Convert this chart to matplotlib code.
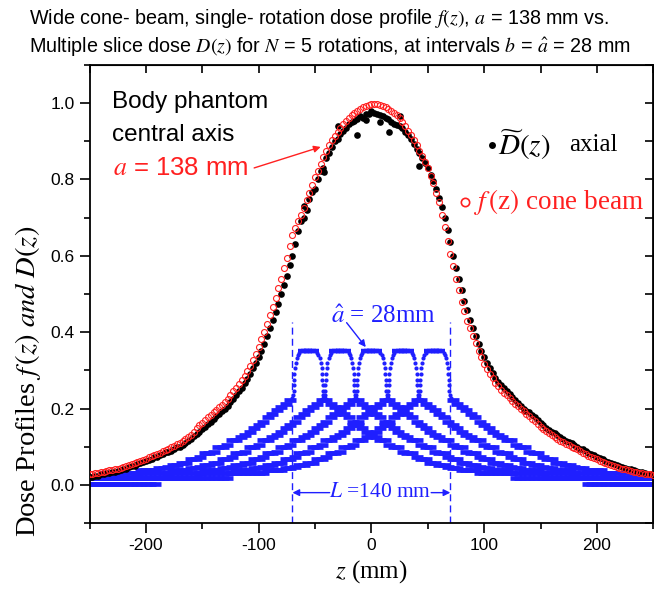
import numpy as np
import matplotlib.pyplot as plt

plt.rcParams['font.family'] = ['Liberation Sans', 'DejaVu Sans']
plt.rcParams['mathtext.fontset'] = 'stix'
plt.rcParams['axes.unicode_minus'] = False

# z positions (mm) for the measured profiles, 2.5 mm apart
z_mm = [-250 + 2.5 * i for i in range(201)]

# f(z) cone beam, single rotation (red open circles)
f_cone = [0.029, 0.030, 0.031, 0.032, 0.033, 0.035, 0.036, 0.038, 0.039, 0.041,
          0.043, 0.045, 0.047, 0.050, 0.052, 0.055, 0.057, 0.060, 0.063, 0.066,
          0.069, 0.072, 0.075, 0.078, 0.081, 0.085, 0.088, 0.092, 0.095, 0.099,
          0.103, 0.107, 0.111, 0.116, 0.120, 0.126, 0.132, 0.140, 0.148, 0.156,
          0.163, 0.170, 0.177, 0.184, 0.190, 0.197, 0.203, 0.210, 0.218, 0.226,
          0.235, 0.245, 0.255, 0.265, 0.275, 0.286, 0.298, 0.312, 0.327, 0.344,
          0.362, 0.381, 0.400, 0.422, 0.445, 0.467, 0.490, 0.515, 0.540, 0.567,
          0.595, 0.625, 0.655, 0.673, 0.690, 0.707, 0.725, 0.745, 0.765, 0.785,
          0.805, 0.823, 0.840, 0.858, 0.875, 0.889, 0.903, 0.914, 0.925, 0.935,
          0.945, 0.954, 0.962, 0.969, 0.975, 0.980, 0.985, 0.990, 0.993, 0.996,
          0.998, 0.998, 0.997, 0.995, 0.993, 0.989, 0.985, 0.980, 0.975, 0.968,
          0.960, 0.950, 0.940, 0.928, 0.915, 0.903, 0.890, 0.875, 0.860, 0.845,
          0.830, 0.810, 0.790, 0.765, 0.740, 0.708, 0.675, 0.640, 0.605, 0.572,
          0.540, 0.510, 0.480, 0.455, 0.430, 0.410, 0.390, 0.371, 0.352, 0.335,
          0.318, 0.304, 0.290, 0.279, 0.268, 0.259, 0.250, 0.242, 0.235, 0.227,
          0.220, 0.213, 0.206, 0.200, 0.193, 0.186, 0.180, 0.173, 0.167, 0.160,
          0.152, 0.146, 0.141, 0.135, 0.130, 0.125, 0.120, 0.116, 0.112, 0.108,
          0.104, 0.100, 0.097, 0.093, 0.089, 0.085, 0.081, 0.077, 0.074, 0.070,
          0.067, 0.064, 0.061, 0.058, 0.055, 0.052, 0.050, 0.047, 0.045, 0.043,
          0.041, 0.039, 0.037, 0.035, 0.034, 0.032, 0.031, 0.030, 0.029, 0.028,
          0.027]

# D~(z) axial measurement (black dots)
d_axial = [0.020, 0.020, 0.024, 0.024, 0.028, 0.028, 0.031, 0.031, 0.034, 0.034,
           0.037, 0.040, 0.043, 0.043, 0.047, 0.050, 0.050, 0.055, 0.058, 0.060,
           0.063, 0.066, 0.069, 0.072, 0.072, 0.078, 0.082, 0.086, 0.086, 0.090,
           0.095, 0.100, 0.100, 0.106, 0.110, 0.115, 0.120, 0.128, 0.133, 0.140,
           0.147, 0.153, 0.160, 0.166, 0.172, 0.180, 0.186, 0.193, 0.200, 0.208,
           0.216, 0.225, 0.235, 0.245, 0.255, 0.266, 0.278, 0.290, 0.305, 0.320,
           0.336, 0.352, 0.370, 0.390, 0.410, 0.432, 0.453, 0.475, 0.500, 0.523,
           0.548, 0.575, 0.600, 0.632, 0.665, 0.690, 0.700, 0.720, 0.750, 0.768,
           0.775, 0.800, 0.822, 0.830, 0.855, 0.870, 0.885, 0.900, 0.905, 0.918,
           0.928, 0.935, 0.945, 0.950, 0.952, 0.958, 0.965, 0.962, 0.970, 0.972,
           0.978, 0.975, 0.972, 0.968, 0.966, 0.960, 0.958, 0.950, 0.945, 0.942,
           0.940, 0.935, 0.925, 0.915, 0.905, 0.893, 0.880, 0.868, 0.855, 0.843,
           0.830, 0.812, 0.795, 0.775, 0.752, 0.728, 0.700, 0.668, 0.635, 0.600,
           0.568, 0.538, 0.510, 0.482, 0.458, 0.432, 0.410, 0.390, 0.370, 0.352,
           0.335, 0.320, 0.305, 0.292, 0.280, 0.270, 0.262, 0.254, 0.245, 0.238,
           0.230, 0.222, 0.215, 0.208, 0.200, 0.195, 0.190, 0.184, 0.178, 0.170,
           0.163, 0.157, 0.150, 0.145, 0.140, 0.135, 0.130, 0.125, 0.120, 0.116,
           0.112, 0.110, 0.105, 0.100, 0.095, 0.095, 0.090, 0.085, 0.080, 0.078,
           0.073, 0.070, 0.068, 0.064, 0.060, 0.058, 0.055, 0.052, 0.050, 0.047,
           0.045, 0.043, 0.041, 0.038, 0.036, 0.035, 0.033, 0.031, 0.030, 0.029,
           0.028]
# scattered extra axial points near the peak
d_extra_z = [-42, -30, -13, -5, 8, 16, 25, 42, -60]
d_extra_v = [0.820, 0.940, 0.916, 0.955, 0.950, 0.925, 0.965, 0.835, 0.730]

# single slice profile (one side, offset from slice centre) for a^ = 28 mm
slice_off = [0, 3, 6, 8, 9, 10, 11, 11.8, 12.3, 12.6, 12.8, 13, 13.5, 14.5,
             16, 20, 24, 28, 32, 36, 40, 44, 48, 52, 56, 60, 64, 68, 72, 76,
             80, 84, 88, 92, 96, 100, 104, 108, 112, 116, 120, 124, 128, 132,
             136, 140, 144, 148, 152, 156, 160, 164, 168, 172, 176, 180, 184,
             188, 192, 196, 200, 204, 208, 212, 216, 220, 224, 228, 232, 236,
             240, 244, 248, 252, 256, 260, 264, 268, 272, 276, 280, 284, 288,
             292, 296, 300, 304, 308, 312, 316, 320]
slice_val = [0.350, 0.350, 0.350, 0.346, 0.341, 0.333, 0.320, 0.306, 0.291,
             0.276, 0.261, 0.247, 0.236, 0.228,
             0.222, 0.212, 0.204, 0.196, 0.186, 0.177, 0.166, 0.157, 0.149,
             0.140, 0.131, 0.126, 0.118, 0.118, 0.104, 0.100, 0.100, 0.087,
             0.084, 0.084, 0.072, 0.068, 0.068, 0.058, 0.058, 0.052, 0.052,
             0.048, 0.045, 0.045, 0.039, 0.039, 0.039, 0.039, 0.031, 0.031,
             0.031, 0.031, 0.031, 0.031, 0.031, 0.031, 0.018, 0.018, 0.018,
             0.018, 0.018, 0.018, 0.018, 0.018, 0.018, 0.018, 0.018, 0.018,
             0.018, 0.018, 0.018, 0.018, 0.003, 0.003, 0.003, 0.003, 0.003,
             0.003, 0.003, 0.003, 0.003, 0.003, 0.003, 0.003, 0.003, 0.003,
             0.003, 0.003, 0.003, 0.003, 0.003]
slice_centres = [-56, -28, 0, 28, 56]
top_end, shoulder_end = 6, 15   # flat top dashes, shoulder dots, tail dashes

serif = 'Liberation Serif'
blue = '#1f1fff'
red = '#ff2020'


def main():
    fig = plt.figure(figsize=(6.54, 6.0), dpi=100)
    ax = fig.add_axes([0.1369, 0.128, 0.862, 0.764])

    off = np.array(slice_off, dtype=float)
    val = np.array(slice_val)
    top = off <= top_end
    dots = (off > top_end) & (off <= shoulder_end)
    tail = off > shoulder_end
    for c in slice_centres:
        for sgn in (-1, 1):
            zz = c + sgn * off
            ax.plot(zz[top], val[top], ls='none', marker='_', ms=6,
                    mew=3.2, color=blue, zorder=2)
            ax.plot(zz[dots], val[dots], ls='none', marker='o', ms=3,
                    mec='none', color=blue, zorder=2)
            ax.plot(zz[tail], val[tail], ls='none', marker='_', ms=8,
                    mew=3.4, color=blue, zorder=2)

    ax.plot(z_mm, d_axial, ls='none', marker='o', ms=4.8, color='black',
            mec='none', zorder=3)
    ax.plot(d_extra_z, d_extra_v, ls='none', marker='o', ms=4.8,
            color='black', mec='none', zorder=3)
    ax.plot(z_mm, f_cone, ls='none', marker='o', ms=4.3, mfc='none',
            mec=red, mew=0.8, zorder=4)

    # L = 140 mm span
    for zl in (-70, 70):
        ax.plot([zl, zl], [-0.1, 0.427], color=blue, lw=1, ls=(0, (5, 3)),
                zorder=2)
    ax.annotate('', xy=(-70, -0.02), xytext=(-37, -0.02),
                arrowprops=dict(arrowstyle='-|>', color=blue, lw=1,
                                mutation_scale=10, shrinkA=0, shrinkB=0))
    ax.annotate('', xy=(70, -0.02), xytext=(53, -0.02),
                arrowprops=dict(arrowstyle='-|>', color=blue, lw=1,
                                mutation_scale=10, shrinkA=0, shrinkB=0))
    ax.text(8, -0.02, r'$L$ =140 mm', color=blue, family=serif, fontsize=15.5,
            ha='center', va='center')

    ax.text(11, 0.44, r'$\hat{a}$ = 28mm', color=blue, family=serif,
            fontsize=18, ha='center', va='center')
    ax.annotate('', xy=(-5, 0.361), xytext=(-22, 0.425),
                arrowprops=dict(arrowstyle='-|>', color=blue, lw=1,
                                mutation_scale=10, shrinkA=0, shrinkB=0))

    # annotations upper left
    ax.text(-230, 1.003, 'Body phantom', fontsize=17.5, ha='left', va='center')
    ax.text(-230, 0.916, 'central axis', fontsize=17.5, ha='left', va='center')
    ax.text(-229, 0.83, r'$a$ = 138 mm', fontsize=18.5, color=red, ha='left',
            va='center')
    ax.annotate('', xy=(-45, 0.885), xytext=(-104, 0.83),
                arrowprops=dict(arrowstyle='-|>', color=red, lw=1,
                                mutation_scale=10, shrinkA=0, shrinkB=0))

    # legend-like labels on the right
    ax.plot([107], [0.89], ls='none', marker='o', ms=5, color='black',
            mec='none')
    ax.text(112, 0.89, r'$\widetilde{D}(z)$', family=serif, fontsize=21,
            ha='left', va='center')
    ax.text(175, 0.89, 'axial', family=serif, fontsize=18, ha='left',
            va='center')
    ax.plot([83], [0.74], ls='none', marker='o', ms=6, mfc='none', mec=red,
            mew=1.2)
    ax.text(91, 0.74, r'$f\,(\mathrm{z})$ cone beam', family=serif,
            fontsize=19.5, color=red, ha='left', va='center')

    ax.set_xlim(-250, 250)
    ax.set_ylim(-0.1, 1.1)
    ax.set_xticks([-200, -100, 0, 100, 200])
    ax.set_xticks([-250, -150, -50, 50, 150, 250], minor=True)
    ax.set_yticks([0.0, 0.2, 0.4, 0.6, 0.8, 1.0])
    ax.set_yticks([-0.1, 0.1, 0.3, 0.5, 0.7, 0.9, 1.1], minor=True)
    ax.set_yticklabels(['0.0', '0.2', '0.4', '0.6', '0.8', '1.0'])
    ax.tick_params(which='both', direction='out', labelsize=12.5, width=1.2)
    ax.tick_params(which='major', length=7)
    ax.tick_params(which='minor', length=4)
    for s in ax.spines.values():
        s.set_linewidth(1.3)

    top_ax = ax.secondary_xaxis('top')
    top_ax.set_xticks([-250, -200, -150, -100, -50, 0, 50, 100, 150, 200, 250])
    top_ax.tick_params(direction='in', length=6, width=1.2, labeltop=False)
    right_ax = ax.secondary_yaxis('right')
    right_ax.set_yticks([-0.1, 0.0, 0.1, 0.2, 0.3, 0.4, 0.5, 0.6, 0.7, 0.8,
                         0.9, 1.0, 1.1])
    right_ax.tick_params(direction='in', length=6, width=1.2,
                         labelright=False)

    ax.set_xlabel(r'$z$ (mm)', family=serif, fontsize=18, labelpad=4)
    ax.set_ylabel(r'Dose Profiles $f\,(z)$ $and$ $D(z)$', family=serif,
                  fontsize=20.5)
    ax.yaxis.set_label_coords(-0.082, 0.31)

    fig.text(0.044, 0.969,
             r'Wide cone- beam, single- rotation dose profile $f(z)$, '
             r'$a$ = 138 mm vs.', fontsize=14.2, va='center')
    fig.text(0.044, 0.923,
             r'Multiple slice dose $D(z)$ for $N$ = 5 rotations, at intervals '
             r'$b$ = $\hat{a}$ = 28 mm', fontsize=14.2, va='center')

    fig.savefig('out.png', dpi=100)


if __name__ == '__main__':
    main()
